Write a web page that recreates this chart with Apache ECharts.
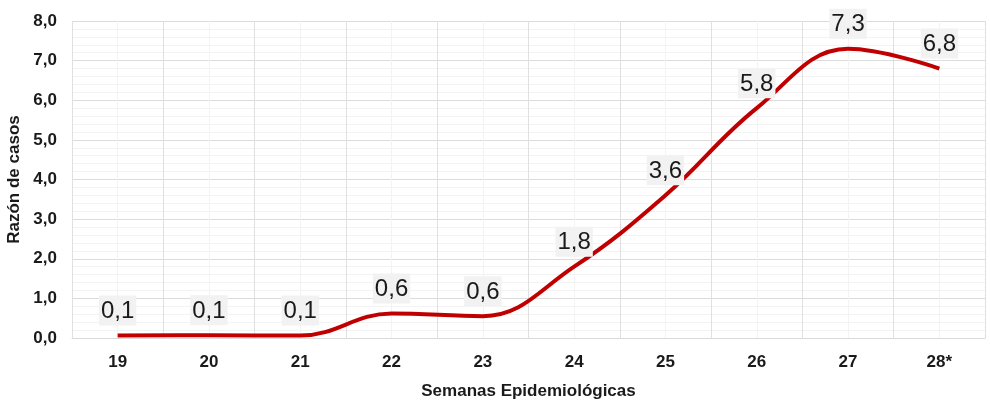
<!DOCTYPE html>
<html>
<head>
<meta charset="utf-8">
<script src="https://cdn.jsdelivr.net/npm/echarts@6/dist/echarts.min.js"></script>
<style>
  html, body { margin: 0; padding: 0; background: #fff; }
  #chart { width: 990px; height: 404px; }
</style>
</head>
<body>
<div id="chart"></div>
<script>
// semanas epidemiológicas y razón de casos
const weeks = ['19', '20', '21', '22', '23', '24', '25', '26', '27', '28*']
const ratios = [0.06, 0.07, 0.06, 0.62, 0.55, 1.8, 3.6, 5.8, 7.3, 6.8]
const yTicks = { min: 0, max: 8, step: 1 }

const fmt = v => v.toFixed(1).replace('.', ',')
const font = '"Liberation Sans", Arial, sans-serif'

const chart = echarts.init(document.getElementById('chart'))
chart.setOption({
  animation: false,
  grid: { left: 72, right: 5, top: 21, bottom: 66, outerBoundsMode: 'none', containLabel: false },
  xAxis: [{
    type: 'category',
    data: weeks,
    boundaryGap: true,
    name: 'Semanas Epidemiológicas',
    nameLocation: 'middle',
    nameGap: 45,
    nameTextStyle: { fontFamily: font, fontWeight: 'bold', fontSize: 17, color: '#1a1a1a' },
    axisLine: { show: true, lineStyle: { color: '#d9d9d9' } },
    axisTick: { show: false },
    axisLabel: { fontFamily: font, fontWeight: 'bold', fontSize: 17, color: '#1a1a1a', margin: 16 },
    splitLine: { show: true, lineStyle: { color: '#e0e0e0', width: 1 } },
    z: 2
  }, {
    // líneas menores en el centro de cada categoría
    type: 'value',
    min: 0,
    max: weeks.length * 2,
    interval: 1,
    show: true,
    axisLine: { show: false },
    axisTick: { show: false },
    axisLabel: { show: false },
    splitLine: { show: true, lineStyle: { color: '#f3f3f3', width: 1 } },
    z: 1
  }],
  yAxis: {
    type: 'value',
    min: yTicks.min,
    max: yTicks.max,
    interval: yTicks.step,
    name: 'Razón de casos',
    nameLocation: 'middle',
    nameGap: 43,
    nameTextStyle: { fontFamily: font, fontWeight: 'bold', fontSize: 17, color: '#1a1a1a' },
    axisLine: { show: false },
    axisTick: { show: false },
    axisLabel: { fontFamily: font, fontWeight: 'bold', fontSize: 17, color: '#1a1a1a', margin: 15, formatter: fmt },
    splitLine: { show: true, lineStyle: { color: '#dcdcdc' } },
    minorTick: { show: false, splitNumber: 5 },
    minorSplitLine: { show: true, lineStyle: { color: '#f3f3f3' } }
  },
  series: [{
    type: 'line',
    xAxisIndex: 0,
    data: ratios,
    smooth: 0.4,
    symbol: 'circle',
    symbolSize: 2,
    showSymbol: true,
    itemStyle: { color: 'rgba(0,0,0,0)' },
    lineStyle: { color: '#c00000', width: 4 },
    label: {
      show: true,
      position: 'top',
      distance: 9,
      formatter: p => fmt(p.value),
      fontFamily: font,
      fontSize: 24,
      color: '#1a1a1a',
      backgroundColor: '#f2f2f2',
      padding: [4, 2, 2, 2]
    },
    labelLayout: { hideOverlap: false },
    z: 5
  }]
})
</script>
</body>
</html>
